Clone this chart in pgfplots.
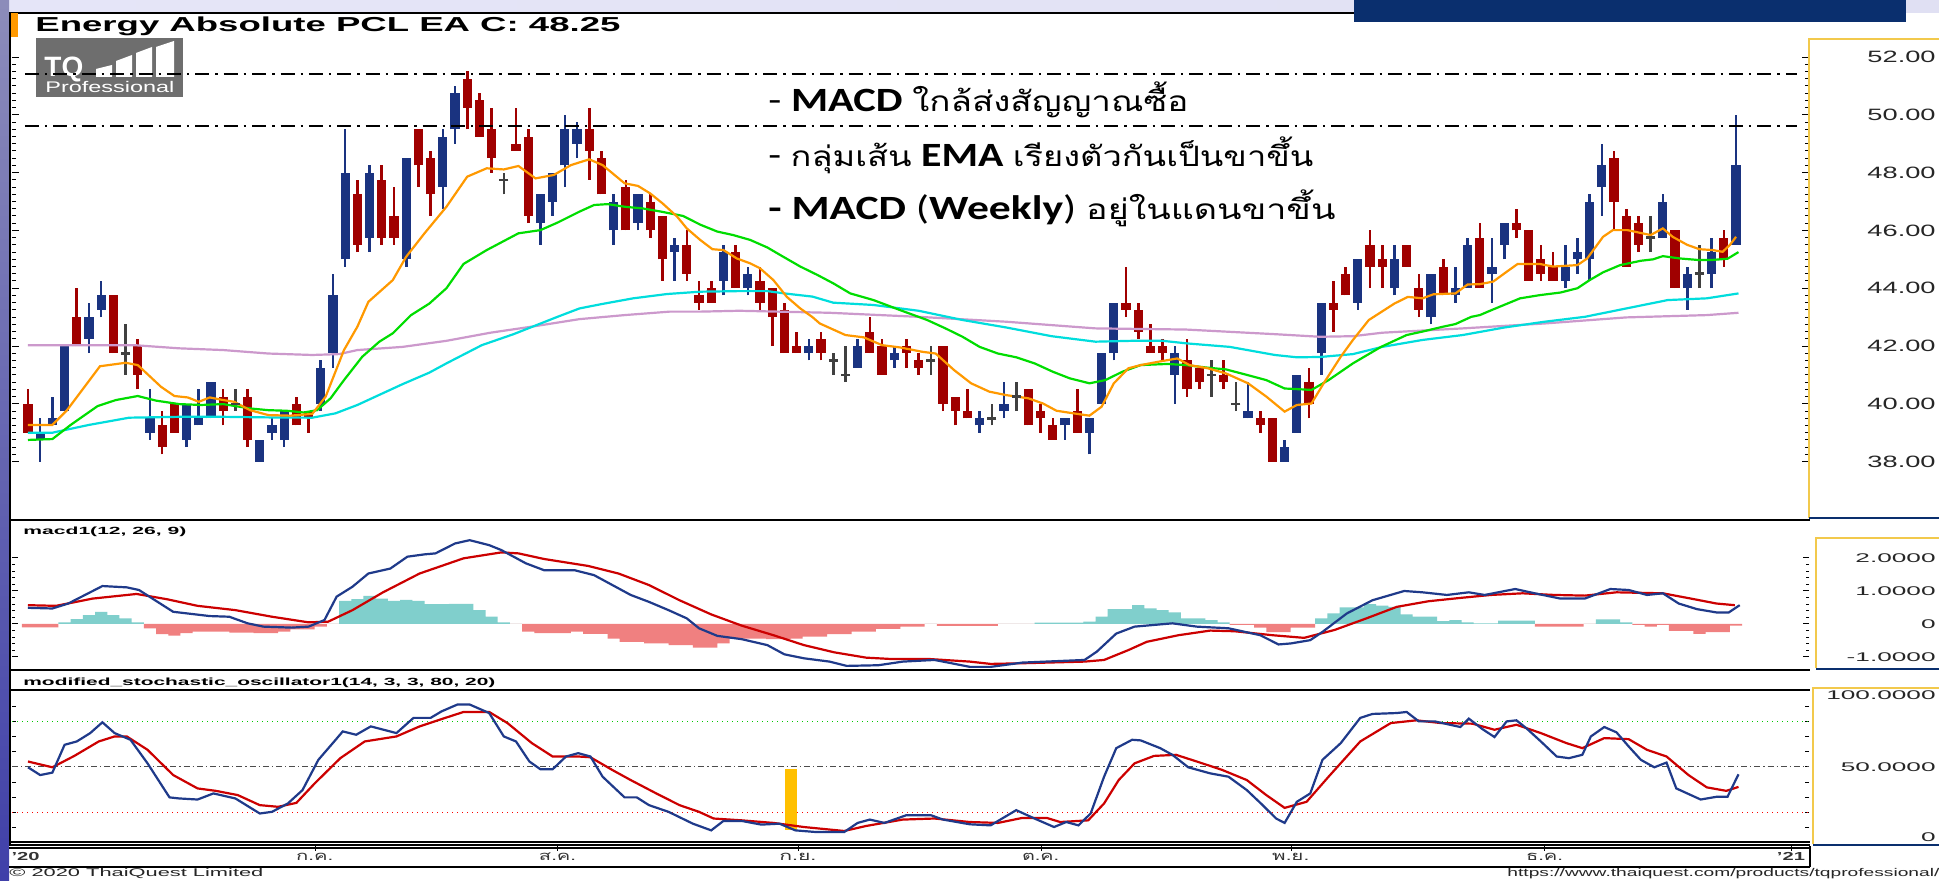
\documentclass[border=0pt]{standalone}
\usepackage{fontspec}
\setmainfont{Liberation Sans}
\newfontfamily\thaifont[Script=Thai]{Loma}
\newfontfamily\calib{Carlito}
\usepackage{graphicx}
\usepackage{pgfplots}
\pgfplotsset{compat=1.18}
\usepackage{pgfplotstable}

\definecolor{cblue}{HTML}{1A3380}
\definecolor{cred}{HTML}{A00000}
\definecolor{cgray}{HTML}{404040}
\definecolor{emaor}{HTML}{FF9900}
\definecolor{emagr}{HTML}{00DD00}
\definecolor{emacy}{HTML}{00DDDD}
\definecolor{emapk}{HTML}{CC99CC}
\definecolor{mline}{HTML}{1F3A8A}
\definecolor{msig}{HTML}{CC0000}
\definecolor{hpos}{HTML}{80CFCC}
\definecolor{hneg}{HTML}{F08080}
\definecolor{gold}{HTML}{F2C94C}
\definecolor{navy}{HTML}{0A2F6E}
\definecolor{logogray}{HTML}{6E6E6E}
\definecolor{stbar}{HTML}{FFC000}

\newcommand\pl[1]{\scalebox{1.66}[1]{\fontsize{8.2}{9}\selectfont #1}}
\newcommand\ml[1]{\scalebox{2.08}[1]{\fontsize{6.3}{7}\selectfont #1}}
\newcommand\tl[1]{\resizebox{18.5pt}{\height}{\thaifont\fontsize{6.5}{7}\selectfont #1}}
\newcommand\yl[1]{\resizebox{14pt}{\height}{\bfseries\fontsize{5.8}{7}\selectfont #1}}

\pgfplotstableread{
i k O H L C
0 1 40.00 40.50 39.00 39.00
1 0 38.75 39.50 38.00 39.00
2 0 39.25 40.25 39.25 39.50
3 0 39.75 42.00 39.75 42.00
4 1 43.00 44.00 42.00 42.00
5 0 42.25 43.50 41.75 43.00
6 0 43.25 44.25 43.00 43.75
7 1 43.75 43.75 41.75 41.75
8 2 41.75 42.75 41.00 41.75
9 1 42.00 42.25 40.50 41.00
10 0 39.00 40.50 38.75 39.50
11 1 39.25 39.75 38.25 38.50
12 1 40.00 40.00 39.00 39.00
13 0 38.75 40.00 38.50 40.00
14 0 39.25 40.50 39.25 39.50
15 0 39.50 40.75 39.50 40.75
16 1 40.25 40.50 39.25 39.75
17 2 40.00 40.50 39.75 40.00
18 1 40.25 40.50 38.50 38.75
19 0 38.00 38.75 38.00 38.75
20 0 39.00 39.50 38.75 39.25
21 0 38.75 39.75 38.50 39.75
22 1 40.00 40.25 39.25 39.25
23 1 39.75 39.75 39.00 39.50
24 0 40.00 41.50 39.75 41.25
25 0 41.75 44.50 41.25 43.75
26 0 45.00 49.50 44.75 48.00
27 1 47.25 47.75 45.25 45.50
28 0 45.75 48.25 45.25 48.00
29 1 47.75 48.25 45.50 45.75
30 1 46.50 47.50 45.50 45.75
31 0 45.00 48.50 44.75 48.50
32 1 49.50 49.50 47.50 48.25
33 1 48.50 48.75 46.50 47.25
34 0 47.50 49.50 46.75 49.25
35 0 49.50 51.00 49.00 50.75
36 1 51.25 51.50 49.50 50.25
37 1 50.50 50.75 49.25 49.25
38 1 49.50 50.25 48.00 48.50
39 2 47.75 48.00 47.25 47.75
40 1 49.00 50.25 48.75 48.75
41 1 49.25 49.50 46.25 46.50
42 0 46.25 47.25 45.50 47.25
43 0 47.00 48.00 46.50 48.00
44 0 48.25 50.00 47.50 49.50
45 0 49.00 49.75 48.50 49.50
46 1 49.50 50.25 47.75 48.75
47 1 48.50 48.75 47.25 47.25
48 0 46.00 47.25 45.50 47.00
49 1 47.50 47.75 46.00 46.00
50 0 46.25 47.25 46.00 47.25
51 1 47.00 47.25 45.75 46.00
52 1 46.50 46.50 44.25 45.00
53 0 45.25 45.75 44.25 45.50
54 1 45.50 46.00 44.25 44.50
55 1 43.75 44.25 43.25 43.50
56 1 44.00 44.25 43.50 43.50
57 0 44.25 45.50 43.75 45.25
58 1 45.25 45.50 44.00 44.00
59 0 44.00 44.75 43.75 44.50
60 1 44.25 44.75 43.25 43.50
61 1 44.00 44.00 42.00 43.00
62 1 43.25 43.50 41.75 41.75
63 1 42.00 42.50 41.75 41.75
64 0 41.75 42.25 41.50 42.00
65 1 42.25 42.50 41.50 41.75
66 2 41.50 41.75 41.00 41.50
67 2 41.00 42.00 40.75 41.00
68 0 41.25 42.25 41.25 42.00
69 1 42.50 43.00 41.75 41.75
70 1 42.00 42.25 41.00 41.00
71 0 41.50 42.00 41.25 41.75
72 1 42.00 42.25 41.25 41.75
73 1 41.50 41.75 41.00 41.25
74 2 41.50 42.00 41.00 41.50
75 1 42.00 42.00 39.75 40.00
76 1 40.25 40.25 39.25 39.75
77 1 39.75 40.50 39.50 39.50
78 0 39.25 39.75 39.00 39.50
79 2 39.50 40.00 39.25 39.50
80 0 39.75 40.75 39.50 40.00
81 2 40.25 40.75 39.75 40.25
82 1 40.50 40.50 39.25 39.25
83 1 39.75 40.00 39.00 39.50
84 1 39.25 39.50 38.75 38.75
85 0 39.25 39.50 38.75 39.50
86 1 39.75 40.50 39.00 39.00
87 0 39.00 39.50 38.25 39.50
88 0 40.00 41.75 40.00 41.75
89 0 41.75 43.50 41.50 43.50
90 1 43.50 44.75 43.00 43.25
91 1 43.25 43.50 42.25 42.50
92 1 42.00 42.75 41.75 41.75
93 1 42.00 42.25 41.50 41.75
94 0 41.00 42.00 40.00 41.75
95 1 41.50 42.25 40.25 40.50
96 1 41.25 41.25 40.50 40.75
97 2 41.00 41.50 40.25 41.00
98 1 41.00 41.50 40.50 40.75
99 2 40.00 40.75 39.75 40.00
100 0 39.50 40.75 39.50 39.75
101 1 39.50 39.75 39.00 39.25
102 1 39.50 39.50 38.00 38.00
103 0 38.00 38.75 38.00 38.50
104 0 39.00 41.00 39.00 41.00
105 1 40.75 41.25 39.50 40.00
106 0 41.75 43.50 41.00 43.50
107 1 43.50 44.25 42.50 43.25
108 1 44.50 44.75 43.75 43.75
109 0 43.50 45.00 43.25 45.00
110 1 45.50 46.00 44.00 44.75
111 1 45.00 45.50 44.00 44.75
112 0 44.00 45.50 43.75 45.00
113 1 45.50 45.50 44.75 44.75
114 1 44.00 44.50 43.00 43.25
115 0 43.00 44.50 42.75 44.50
116 1 44.75 45.00 43.75 43.75
117 0 43.75 44.75 43.50 44.00
118 0 44.00 45.75 44.00 45.50
119 1 45.75 46.25 44.00 44.00
120 0 44.50 45.75 43.50 44.75
121 0 45.50 46.25 45.00 46.25
122 1 46.25 46.75 45.75 46.00
123 1 46.00 46.00 44.25 44.25
124 1 45.00 45.50 44.25 44.50
125 1 44.75 45.25 44.25 44.25
126 0 44.25 45.50 44.00 44.75
127 0 45.00 45.75 44.50 45.25
128 0 45.00 47.25 44.25 47.00
129 0 47.50 49.00 46.50 48.25
130 1 48.50 48.75 46.00 47.00
131 1 46.50 46.75 44.75 44.75
132 1 46.25 46.50 45.25 45.50
133 2 45.75 46.50 45.25 45.75
134 0 45.75 47.25 45.75 47.00
135 1 46.00 46.00 44.00 44.00
136 0 44.00 44.75 43.25 44.50
137 2 44.50 45.50 44.00 44.50
138 0 44.50 45.75 44.00 45.25
139 1 45.75 46.00 44.75 45.00
140 0 45.50 50.00 45.50 48.25
}\candles

\pgfplotstableread{
i h
0 -0.10
1 -0.10
2 -0.10
3 0.05
4 0.15
5 0.27
6 0.37
7 0.27
8 0.17
9 0.05
10 -0.13
11 -0.31
12 -0.35
13 -0.28
14 -0.23
15 -0.23
16 -0.23
17 -0.26
18 -0.26
19 -0.28
20 -0.28
21 -0.23
22 -0.16
23 -0.16
24 -0.08
25 0.00
26 0.70
27 0.75
28 0.85
29 0.77
30 0.70
31 0.73
32 0.70
33 0.60
34 0.60
35 0.61
36 0.61
37 0.42
38 0.22
39 0.05
40 0.00
41 -0.23
42 -0.28
43 -0.28
44 -0.28
45 -0.23
46 -0.30
47 -0.30
48 -0.44
49 -0.54
50 -0.54
51 -0.59
52 -0.59
53 -0.64
54 -0.64
55 -0.72
56 -0.72
57 -0.59
58 -0.44
59 -0.44
60 -0.44
61 -0.46
62 -0.46
63 -0.44
64 -0.38
65 -0.38
66 -0.31
67 -0.31
68 -0.23
69 -0.23
70 -0.15
71 -0.15
72 -0.08
73 -0.08
74 0.00
75 -0.06
76 -0.06
77 -0.06
78 -0.06
79 -0.06
80 0.00
81 0.00
82 0.00
83 0.04
84 0.04
85 0.04
86 0.04
87 0.07
88 0.22
89 0.45
90 0.45
91 0.57
92 0.47
93 0.42
94 0.35
95 0.17
96 0.17
97 0.12
98 0.05
99 -0.03
100 -0.03
101 -0.11
102 -0.25
103 -0.25
104 -0.11
105 -0.11
106 0.17
107 0.32
108 0.50
109 0.50
110 0.60
111 0.56
112 0.52
113 0.29
114 0.22
115 0.22
116 0.09
117 0.12
118 0.05
119 0.02
120 0.02
121 0.10
122 0.10
123 0.10
124 -0.08
125 -0.08
126 -0.08
127 -0.08
128 0.00
129 0.14
130 0.14
131 0.05
132 -0.03
133 -0.08
134 -0.03
135 -0.21
136 -0.21
137 -0.30
138 -0.25
139 -0.25
140 -0.05
}\hist

\pgfplotsset{
  candle/.style n args={2}{draw=none, mark=none,
    error bars/.cd, y dir=plus, y explicit, error mark=none,
    error bar style={draw=#1, line width=#2}, /pgfplots/.cd},
}

\begin{document}
\begin{tikzpicture}[x=1pt,y=1pt]
\path[use as bounding box] (0,0) rectangle (969.5,440.5);
\fill[white] (0,0) rectangle (969.5,440.5);
% window decorations
\shade[left color=black!28!blue!10!white, right color=black!40!blue!12!white] (0,434) rectangle (969.5,440.5);
\fill[navy] (677,429.5) rectangle (953,440.5);
\shade[top color=blue!40!black!45!white, bottom color=blue!55!black!75] (0,0) rectangle (4.5,440.5);
\draw[black, line width=0.8pt] (4.5,434) -- (677,434);
\draw[black, line width=0.6pt] (5,18) -- (5,434);
\fill[emaor] (5.5,422) rectangle (9,434);
% logo
\fill[logogray] (18,392) rectangle (91.5,421.5);
\node[anchor=base west, inner sep=0pt, text=white] at (22,402) {\bfseries\fontsize{14}{14}\selectfont TQ};
\fill[white] (48,402) -- (56,402) -- (56,408) -- (48,406) -- cycle;
\fill[white] (58,402) -- (66,402) -- (66,413) -- (58,410) -- cycle;
\fill[white] (68,402) -- (76,402) -- (76,417) -- (68,414) -- cycle;
\fill[white] (78,402) -- (87,402) -- (87,420) -- (78,417) -- cycle;
\node[anchor=base west, inner sep=0pt, text=white] at (22.5,394) {\resizebox{64.5pt}{\height}{\fontsize{7.7}{8}\selectfont Professional}};
% title
\node[anchor=base west, inner sep=0pt] at (17.5,424.5) {\resizebox{292.5pt}{\height}{\bfseries\fontsize{10.1}{11}\selectfont Energy Absolute PCL EA C: 48.25}};

% ---------------- price panel
\begin{axis}[
  at={(6pt,180.5pt)}, anchor=south west, scale only axis,
  width=898.5pt, height=240pt,
  xmin=-1.31, xmax=145.98, ymin=35.98, ymax=52.59,
  axis line style={draw=none},
  xtick=\empty,
  ytick={38,40,42,44,46,48,50,52},
  yticklabels={\pl{38.00},\pl{40.00},\pl{42.00},\pl{44.00},\pl{46.00},\pl{48.00},\pl{50.00},\pl{52.00}},
  minor y tick num=7,
  ytick pos=both, yticklabel pos=right,
  major tick length=3.5pt, minor tick length=1.8pt,
  every tick/.style={black, line width=0.5pt},
  yticklabel style={anchor=east, inner sep=0pt, xshift=63.5pt, text=black!85},
]
% wicks
\addplot[restrict expr to domain={\thisrow{k}}{0:0}, candle={cblue}{1.3pt}]
  table[x=i, y=L, y error expr=\thisrow{H}-\thisrow{L}] {\candles};
\addplot[restrict expr to domain={\thisrow{k}}{1:1}, candle={cred}{1.3pt}]
  table[x=i, y=L, y error expr=\thisrow{H}-\thisrow{L}] {\candles};
\addplot[restrict expr to domain={\thisrow{k}}{2:2}, candle={cgray}{1.3pt}]
  table[x=i, y=L, y error expr=\thisrow{H}-\thisrow{L}] {\candles};
% bodies
\addplot[restrict expr to domain={\thisrow{k}}{0:0}, candle={cblue}{4.6pt}]
  table[x=i, y=O, y error expr=\thisrow{C}-\thisrow{O}] {\candles};
\addplot[restrict expr to domain={\thisrow{k}}{1:1}, candle={cred}{4.6pt}]
  table[x=i, y=C, y error expr=\thisrow{O}-\thisrow{C}] {\candles};
\addplot[only marks, mark=-, mark size=2.3pt, mark options={line width=1.3pt, draw=cgray},
  restrict expr to domain={\thisrow{k}}{2:2}]
  table[x=i, y=C] {\candles};
% EMAs
\addplot[emapk, line width=1.1pt] coordinates {(0,42.03)(8.7,42.03)(12.4,41.92)(16.0,41.86)(19.7,41.74)(23.3,41.69)(25.5,41.72)(27.0,41.86)(30.7,41.97)(34.3,42.18)(37.9,42.46)(41.6,42.69)(45.2,42.93)(48.9,43.07)(52.6,43.19)(55.1,43.19)(58.3,43.22)(65.7,43.15)(73.0,43.01)(80.2,42.84)(87.5,42.61)(94.9,42.57)(102.2,42.41)(105.9,42.32)(108.6,42.34)(111.0,42.46)(117.6,42.61)(124.3,42.78)(131.0,42.99)(137.6,43.07)(140.2,43.15)};
\addplot[emacy, line width=1.1pt] coordinates {(0,39.0)(2.0,39.0)(5.0,39.27)(8.3,39.52)(12.4,39.55)(16.0,39.55)(19.7,39.53)(23.3,39.52)(25.2,39.67)(27.0,39.96)(30.7,40.68)(32.9,41.08)(34.3,41.4)(37.2,42.03)(39.8,42.41)(43.4,43.01)(45.2,43.3)(47.0,43.45)(49.6,43.65)(52.4,43.8)(55.1,43.88)(58.3,43.9)(60.6,43.9)(62.0,43.82)(64.3,43.71)(66.0,43.5)(69.3,43.42)(73.0,43.22)(76.6,42.9)(80.2,42.64)(83.9,42.34)(87.5,42.15)(90.5,42.18)(93.0,42.18)(95.0,42.09)(98.5,41.97)(102.2,41.69)(104.0,41.61)(105.9,41.62)(108.6,41.72)(111.0,41.97)(114.3,42.21)(117.6,42.38)(121.0,42.64)(124.3,42.84)(127.6,43.01)(131.0,43.3)(134.4,43.59)(137.6,43.65)(140.2,43.82)};
\addplot[emagr, line width=1.1pt] coordinates {(0,38.75)(2.0,38.78)(3.5,39.27)(5.7,39.92)(7.2,40.13)(9.0,40.27)(10.5,40.11)(12.4,39.99)(14.2,39.96)(16.0,39.99)(18.2,39.84)(19.7,39.78)(21.2,39.76)(22.6,39.7)(23.7,39.78)(24.8,40.19)(25.9,40.82)(27.4,41.63)(28.8,42.15)(29.9,42.44)(31.4,43.07)(32.9,43.47)(34.3,44.0)(35.7,44.84)(37.6,45.32)(40.2,45.9)(42.0,46.01)(43.4,46.27)(45.2,46.65)(46.4,46.88)(47.5,46.91)(48.9,46.82)(50.4,46.76)(51.9,46.65)(53.7,46.5)(55.1,46.2)(56.5,45.96)(57.8,45.84)(59.2,45.67)(60.6,45.41)(61.9,45.09)(63.3,44.75)(64.7,44.46)(66.0,44.17)(67.4,43.82)(69.3,43.59)(71.5,43.24)(73.7,42.9)(75.2,42.61)(76.6,42.32)(78.0,41.97)(79.5,41.74)(81.0,41.61)(82.5,41.4)(84.0,41.11)(85.4,40.88)(87.0,40.71)(88.3,40.82)(89.7,41.11)(91.2,41.34)(93.4,41.38)(94.9,41.34)(96.7,41.25)(98.2,41.19)(100.0,40.99)(101.5,40.82)(103.0,40.53)(104.4,40.5)(105.2,40.48)(106.6,40.82)(108.6,41.4)(110.9,41.97)(113.0,42.38)(114.3,42.5)(116.0,42.67)(117.0,42.76)(118.3,43.01)(119.0,43.07)(120.0,43.25)(122.3,43.65)(123.9,43.76)(125.6,43.85)(127.0,44.0)(128.0,44.28)(129.1,44.55)(130.5,44.8)(132.2,44.95)(133.2,45.0)(134.0,45.11)(135.4,45.03)(136.8,44.98)(138.1,44.98)(139.3,45.02)(140.2,45.25)};
\addplot[emaor, line width=1.1pt] coordinates {(0,39.27)(2.0,39.27)(3.2,39.78)(5.9,41.3)(8.0,41.42)(9.0,41.34)(10.9,40.59)(12.0,40.27)(13.1,40.22)(14.0,40.07)(14.9,40.22)(16.0,40.13)(16.9,40.07)(18.2,39.78)(19.7,39.61)(21.5,39.59)(23.3,39.65)(24.4,40.25)(25.9,41.86)(27.0,42.67)(27.9,43.53)(29.9,44.28)(31.0,45.09)(32.5,45.9)(34.3,46.82)(36.0,47.86)(37.6,48.15)(39.0,48.11)(40.2,48.23)(41.6,47.8)(43.1,47.92)(44.5,48.26)(46.0,48.46)(47.1,48.26)(48.9,47.63)(50.0,47.54)(51.0,47.28)(52.0,46.94)(53.2,46.48)(54.0,46.07)(55.1,45.67)(56.1,45.35)(57.0,45.32)(58.1,45.03)(59.2,44.86)(60.0,44.69)(61.1,44.28)(62.2,43.7)(63.3,43.3)(64.3,43.0)(64.9,42.78)(67.0,42.38)(68.5,42.3)(70.0,42.03)(71.5,41.95)(73.3,41.8)(74.4,41.74)(75.9,41.17)(77.3,40.71)(78.8,40.42)(80.2,40.3)(82.0,40.19)(83.2,40.01)(84.3,39.76)(85.7,39.67)(87.0,39.59)(88.0,39.9)(89.0,40.71)(90.2,41.23)(91.2,41.34)(92.7,41.46)(94.2,41.57)(95.2,41.34)(96.7,41.23)(98.2,41.05)(100.0,40.71)(101.5,40.25)(103.0,39.73)(104.0,39.96)(105.2,40.01)(106.2,40.71)(107.6,41.63)(108.6,42.21)(109.9,42.9)(112.0,43.47)(113.1,43.7)(114.3,43.65)(115.2,43.79)(117.0,43.82)(118.0,44.13)(119.0,44.14)(120.1,44.23)(121.2,44.57)(122.1,44.84)(123.9,44.84)(125.0,44.75)(127.0,44.8)(127.8,45.03)(129.1,45.78)(129.9,46.01)(131.1,46.01)(132.1,45.92)(133.0,45.84)(134.0,46.07)(134.8,45.78)(136.0,45.5)(137.0,45.35)(138.1,45.32)(138.9,45.26)(139.5,45.5)(140.0,45.78)};
% resistance lines
\addplot[black, line width=1.1pt, dash pattern=on 7pt off 3pt on 1.2pt off 3pt] coordinates {(-0.25,51.41)(145,51.41)};
\addplot[black, line width=1.1pt, dash pattern=on 7pt off 3pt on 1.2pt off 3pt] coordinates {(-0.25,49.61)(145,49.61)};
\end{axis}

% ---------------- MACD panel
\begin{axis}[
  at={(6pt,105.5pt)}, anchor=south west, scale only axis,
  width=898.5pt, height=75pt,
  xmin=-1.31, xmax=145.98, ymin=-1.394, ymax=3.152,
  axis line style={draw=none},
  xtick=\empty,
  ytick={-1,0,1,2},
  yticklabels={\ml{-1.0000},\ml{0},\ml{1.0000},\ml{2.0000}},
  minor y tick num=4,
  ytick pos=both, yticklabel pos=right,
  major tick length=3pt, minor tick length=1.5pt,
  every tick/.style={black, line width=0.5pt},
  yticklabel style={anchor=east, inner sep=0pt, xshift=63.5pt, text=black!85},
]
\addplot[ybar, bar width=1, fill=hpos, draw=none, restrict y to domain=0:5] table[x=i, y=h] {\hist};
\addplot[ybar, bar width=1, fill=hneg, draw=none, restrict y to domain=-5:0] table[x=i, y=h] {\hist};
\addplot[msig, line width=1.1pt] coordinates {(0,0.57)(2.3,0.55)(5.3,0.77)(8.9,0.91)(11.4,0.75)(13.9,0.55)(17.0,0.42)(20.0,0.22)(23.0,0.05)(24.6,0.07)(26.6,0.42)(29.1,0.96)(32.1,1.53)(35.7,1.99)(38.8,2.17)(40.2,2.14)(42.3,1.97)(45.9,1.76)(48.4,1.53)(50.9,1.18)(53.4,0.72)(56.0,0.29)(58.5,-0.05)(61.1,-0.34)(63.6,-0.64)(66.1,-0.86)(68.7,-1.02)(70.7,-1.06)(73.8,-1.06)(77.2,-1.14)(78.9,-1.21)(81.5,-1.19)(86.6,-1.14)(88.2,-1.09)(90.2,-0.79)(91.7,-0.54)(94.3,-0.34)(96.9,-0.2)(98.9,-0.22)(102.0,-0.34)(104.6,-0.42)(107.1,-0.18)(109.7,0.17)(112.2,0.52)(114.8,0.69)(117.4,0.79)(119.9,0.88)(122.5,0.93)(125.1,0.88)(127.6,0.86)(130.2,0.96)(134.0,0.93)(136.3,0.77)(138.4,0.62)(139.9,0.57)};
\addplot[mline, line width=1.1pt] coordinates {(0,0.49)(2.0,0.47)(3.3,0.62)(6.1,1.15)(8.1,1.11)(9.1,1.03)(10.2,0.77)(11.9,0.37)(14.9,0.24)(16.5,0.22)(18.0,0.02)(19.3,-0.08)(21.6,-0.11)(23.0,-0.08)(24.3,0.12)(25.3,0.83)(26.6,1.13)(27.9,1.53)(29.7,1.68)(31.1,2.04)(32.5,2.11)(33.4,2.14)(35.0,2.44)(36.2,2.54)(37.8,2.39)(38.8,2.24)(40.8,1.84)(42.3,1.63)(44.8,1.63)(46.4,1.48)(47.9,1.18)(49.4,0.88)(50.9,0.67)(52.5,0.42)(54.0,0.17)(55.0,-0.13)(56.5,-0.36)(58.5,-0.46)(60.6,-0.64)(62.0,-0.92)(63.6,-1.04)(65.7,-1.14)(67.1,-1.27)(69.7,-1.25)(71.7,-1.14)(74.3,-1.09)(75.7,-1.19)(77.2,-1.3)(78.9,-1.3)(81.5,-1.17)(86.6,-1.09)(87.6,-0.84)(89.2,-0.29)(90.7,-0.08)(93.8,0.02)(95.8,-0.08)(98.4,-0.13)(101.0,-0.34)(102.5,-0.62)(103.5,-0.59)(105.1,-0.49)(106.1,-0.24)(108.1,0.32)(110.2,0.72)(112.8,1.0)(114.3,0.96)(116.3,0.88)(118.1,0.96)(119.4,0.88)(121.9,1.06)(123.5,0.93)(125.6,0.77)(127.6,0.77)(129.7,1.06)(131.2,1.03)(132.7,0.88)(134.0,0.93)(135.3,0.62)(136.8,0.45)(138.4,0.35)(139.4,0.35)(140.3,0.57)};
\end{axis}

% ---------------- Stochastic panel
\begin{axis}[
  at={(6pt,19pt)}, anchor=south west, scale only axis,
  width=898.5pt, height=76pt,
  xmin=-1.31, xmax=145.98, ymin=0, ymax=100,
  axis line style={draw=none},
  xtick={-0.2,23.5,43.4,63.1,83.0,103.5,124.3,144.5},
  xticklabels={\yl{'20},\tl{ก.ค.},\tl{ส.ค.},\tl{ก.ย.},\tl{ต.ค.},\tl{พ.ย.},\tl{ธ.ค.},\yl{'21}},
  x tick style={draw=none},
  xticklabel style={anchor=base, inner sep=0pt, yshift=-9pt, text=black!80},
  ytick={3.6,50,97},
  yticklabels={\ml{0},\ml{50.0000},\ml{100.0000}},
  minor ytick={0,10,...,100},
  ytick pos=both, yticklabel pos=right,
  major tick length=0pt, minor tick length=2pt,
  every tick/.style={black, line width=0.5pt},
  yticklabel style={anchor=east, inner sep=0pt, xshift=63.5pt, text=black!85},
]
\addplot[green!80!black, line width=0.5pt, dotted] coordinates {(-1.31,80)(145.98,80)};
\addplot[black!70, line width=0.5pt, dash pattern=on 3pt off 1.5pt on 0.6pt off 1.5pt] coordinates {(-1.31,50)(145.98,50)};
\addplot[red, line width=0.5pt, dotted] coordinates {(-1.31,20)(145.98,20)};
\addplot[draw=none, fill=stbar] coordinates {(62.05,8.8)(63.0,8.8)(63.0,48.5)(62.05,48.5)} -- cycle;
\addplot[msig, line width=1.1pt] coordinates {(0,53.6)(2.0,49.8)(3.8,57.3)(5.8,66.8)(7.1,70.1)(8.1,70.1)(9.8,61.3)(11.9,44.7)(13.9,35.9)(15.4,34.3)(17.2,31.5)(19.0,24.9)(20.5,23.8)(22.0,26.4)(23.5,39.2)(25.6,55.8)(27.6,66.8)(30.2,70.1)(32.1,76.7)(34.2,82.3)(35.7,86.2)(37.8,86.2)(39.3,78.9)(41.3,65.7)(43.0,56.9)(45.1,56.9)(46.1,56.4)(47.9,48.0)(49.4,41.4)(51.5,32.6)(53.4,24.9)(55.0,20.5)(56.2,16.1)(58.5,14.9)(61.1,13.2)(63.6,10.5)(66.9,7.9)(68.7,11.2)(71.7,15.4)(74.3,16.1)(77.2,13.8)(79.5,13.2)(81.5,16.5)(83.5,16.5)(84.6,13.8)(86.9,14.9)(88.2,26.0)(89.4,41.4)(90.7,52.4)(92.3,57.3)(94.1,58.0)(95.8,53.6)(97.9,48.0)(99.9,41.4)(101.5,31.5)(103.0,23.1)(104.8,27.1)(106.6,43.6)(109.2,66.8)(111.7,78.9)(113.8,80.7)(115.8,78.9)(118.4,78.5)(120.2,74.5)(122.0,77.8)(124.0,72.3)(126.1,65.7)(127.4,62.4)(129.2,69.0)(131.2,68.3)(132.7,61.3)(134.3,56.9)(136.1,44.7)(137.6,36.6)(139.2,34.3)(140.2,36.9)};
\addplot[mline, line width=1.1pt] coordinates {(0,49.8)(1.0,44.7)(2.0,46.3)(3.0,64.6)(4.0,66.8)(5.1,72.3)(6.1,79.4)(7.1,72.3)(8.4,67.9)(9.8,52.4)(11.6,30.0)(12.4,29.3)(13.9,28.6)(15.2,32.6)(17.0,29.3)(19.0,19.4)(20.0,20.5)(21.3,26.0)(22.5,34.8)(23.8,54.7)(25.1,66.8)(25.8,73.4)(26.9,71.2)(28.1,76.7)(30.2,72.3)(31.6,82.3)(33.0,82.3)(33.9,86.6)(35.2,91.1)(36.2,91.1)(37.8,85.5)(39.0,70.1)(40.0,66.8)(41.1,53.6)(42.0,48.5)(43.0,48.5)(44.1,56.9)(45.1,59.1)(46.1,56.9)(47.1,43.6)(48.9,30.0)(49.9,30.0)(50.9,24.9)(52.5,20.5)(54.5,12.7)(56.0,8.3)(57.0,14.5)(58.5,14.5)(60.1,12.1)(61.6,12.7)(62.9,8.3)(64.6,7.2)(66.9,7.2)(68.0,13.2)(69.0,15.4)(70.2,13.2)(72.0,18.3)(74.0,18.3)(75.0,15.4)(77.2,12.3)(78.9,11.6)(81.0,21.6)(82.5,16.1)(84.1,10.5)(85.1,13.8)(86.1,11.6)(87.1,19.4)(88.2,43.6)(89.2,62.4)(90.5,67.9)(91.2,67.5)(92.8,62.4)(93.8,58.0)(95.1,49.8)(96.9,45.8)(98.4,43.6)(99.9,34.8)(101.2,24.9)(102.3,16.1)(103.0,13.2)(104.0,27.1)(105.1,32.6)(106.1,54.7)(107.6,65.7)(109.2,82.3)(110.2,84.9)(112.2,85.5)(113.0,86.2)(114.0,80.0)(115.3,80.0)(117.4,76.3)(118.1,81.8)(119.2,75.0)(120.2,69.7)(121.2,80.0)(122.0,80.7)(122.8,75.6)(124.0,66.8)(125.3,56.9)(126.3,55.8)(127.4,58.0)(128.1,70.1)(129.2,76.3)(130.2,72.8)(131.2,63.5)(132.2,54.7)(133.3,49.8)(134.3,52.9)(135.1,35.9)(137.1,28.6)(138.4,30.4)(139.3,30.4)(140.2,45.2)};
\end{axis}

% panel separators and frames
\draw[black, line width=1.1pt] (4.5,180.5) -- (905,180.5);
\draw[black, line width=1.1pt] (4.5,105.5) -- (905,105.5);
\draw[black, line width=0.6pt] (4.5,95.5) -- (905,95.5);
\draw[black, line width=0.6pt] (4.5,19.5) -- (905,19.5);
\draw[black, line width=0.6pt] (4.5,18) -- (905,18);
\draw[black, line width=0.6pt] (4.5,16.5) -- (905,16.5);
\draw[black, line width=0.6pt] (4.5,7) -- (905,7);
\draw[black, line width=0.6pt] (905,7) -- (905,17.5);
\foreach \xx in {157.5,278.5,399,520.5,645.5,772,895.5} {\draw[black, line width=0.5pt] (\xx,15) -- (\xx,17.5);}
% right label boxes
\draw[gold, line width=0.9pt] (969.5,421) -- (904.5,421) -- (904.5,181.5);
\draw[navy, line width=1pt] (904.5,181.5) -- (969.5,181.5);
\draw[gold, line width=0.9pt] (908,106.5) -- (908,171.5) -- (969.5,171.5);
\draw[navy, line width=1pt] (908,106) -- (969.5,106);
\draw[gold, line width=0.9pt] (906.5,18.5) -- (906.5,96.5) -- (969.5,96.5);
\draw[navy, line width=1pt] (906.5,18) -- (969.5,18);
% panel titles
\node[anchor=base west, inner sep=0pt] at (11.5,173) {\resizebox{81.5pt}{\height}{\bfseries\fontsize{5.2}{6}\selectfont macd1(12, 26, 9)}};
\node[anchor=base west, inner sep=0pt] at (11.5,97.5) {\resizebox{236pt}{\height}{\bfseries\fontsize{5.2}{6}\selectfont modified\_stochastic\_oscillator1(14, 3, 3, 80, 20)}};
% footer
\node[anchor=base west, inner sep=0pt, text=black!85] at (4.5,2) {\resizebox{127pt}{\height}{\fontsize{5.6}{6}\selectfont © 2020 ThaiQuest Limited}};
\node[anchor=base west, inner sep=0pt, text=black!85] at (753.5,2) {\resizebox{216pt}{\height}{\fontsize{5.6}{6}\selectfont https://www.thaiquest.com/products/tqprofessional/}};
% annotations
\node[anchor=base west, inner sep=0pt] at (384,384.5) {\resizebox{210pt}{\height}{\calib\fontsize{17}{20}\selectfont - \textbf{MACD} {\thaifont\fontsize{14}{16}\selectfont ใกล้ส่งสัญญาณซื้อ}}};
\node[anchor=base west, inner sep=0pt] at (384,357) {\resizebox{272.5pt}{\height}{\calib\fontsize{17}{20}\selectfont - {\thaifont\fontsize{14}{16}\selectfont กลุ่มเส้น} \textbf{EMA} {\thaifont\fontsize{14}{16}\selectfont เรียงตัวกันเป็นขาขึ้น}}};
\node[anchor=base west, inner sep=0pt] at (384,330.5) {\resizebox{283.5pt}{\height}{\calib\fontsize{17}{20}\selectfont \textbf{- MACD} (\textbf{Weekly}) {\thaifont\fontsize{14}{16}\selectfont อยู่ในแดนขาขึ้น}}};
\end{tikzpicture}
\end{document}
